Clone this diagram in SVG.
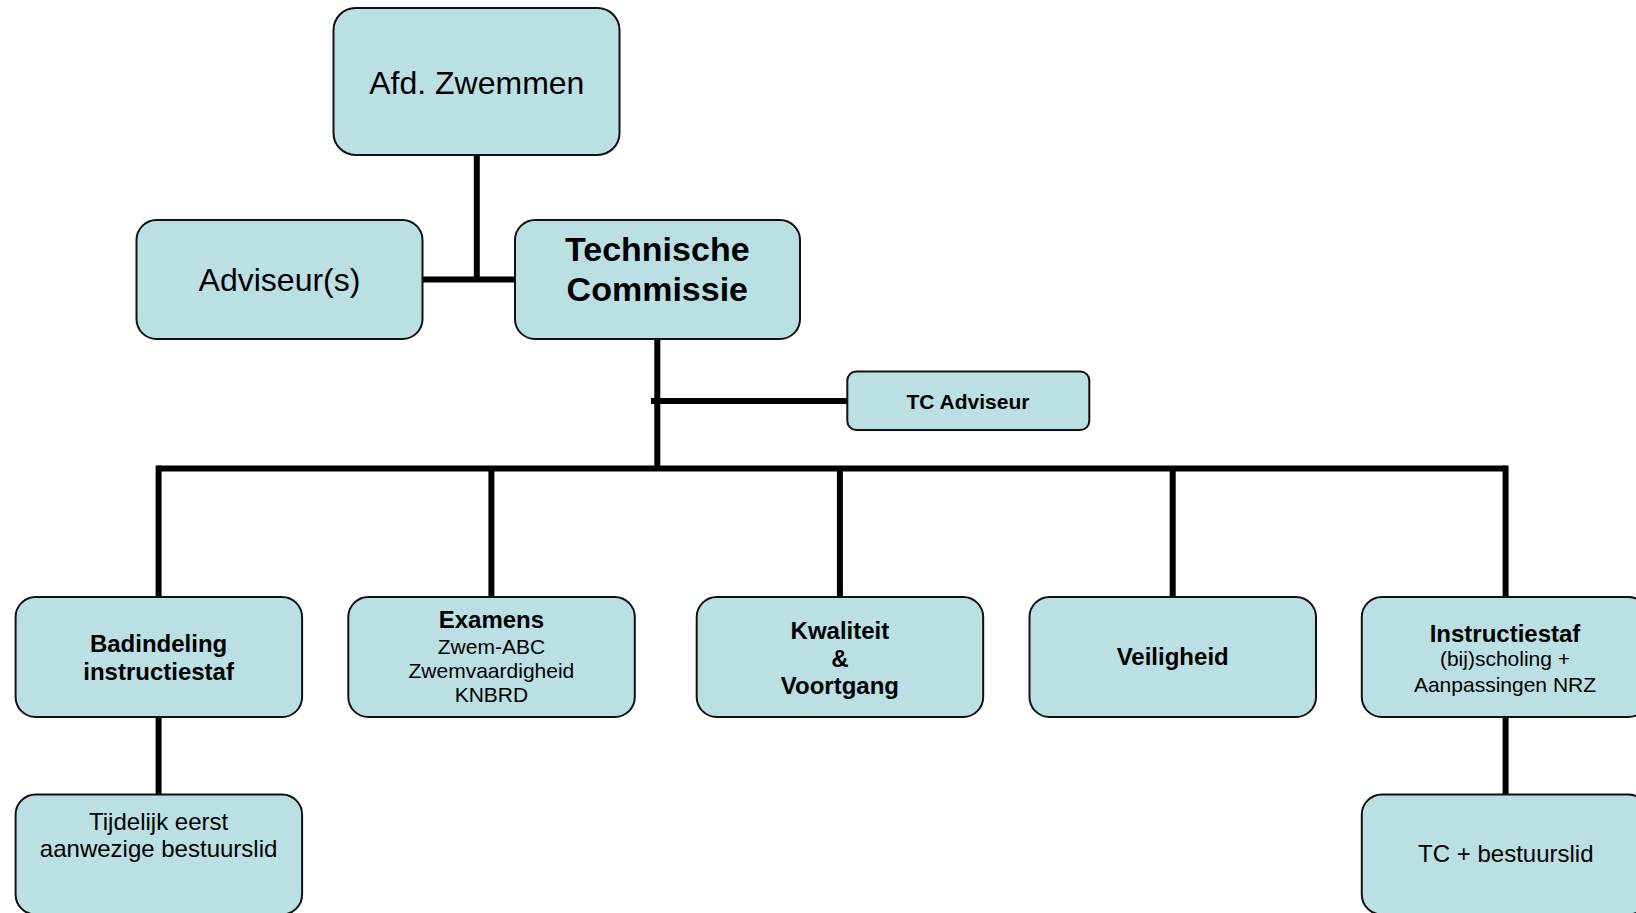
<svg xmlns="http://www.w3.org/2000/svg" width="1636" height="913" viewBox="0 0 1636 913">
<style>
.box{fill:#BAE0E3;stroke:#111;stroke-width:2}
.ln{stroke:#000;stroke-width:6;fill:none}
text{font-family:"Liberation Sans",Arial,sans-serif;fill:#000;text-anchor:middle}
.b{font-weight:bold}
</style>
<rect width="1636" height="913" fill="#fff"/>
<g id="connectors">
<line class="ln" x1="476.8" y1="155" x2="476.8" y2="279.5"/>
<line class="ln" x1="422" y1="279.5" x2="515" y2="279.5"/>
<line class="ln" x1="657.3" y1="339" x2="657.3" y2="468.5"/>
<line class="ln" x1="651" y1="401" x2="847" y2="401"/>
<line class="ln" x1="158.6" y1="468.5" x2="1505.6" y2="468.5"/>
<line class="ln" x1="158.6" y1="465.5" x2="158.6" y2="597"/>
<line class="ln" x1="491.4" y1="468.5" x2="491.4" y2="597"/>
<line class="ln" x1="839.9" y1="468.5" x2="839.9" y2="597"/>
<line class="ln" x1="1172.7" y1="468.5" x2="1172.7" y2="597"/>
<line class="ln" x1="1505.6" y1="465.5" x2="1505.6" y2="597"/>
<line class="ln" x1="158.6" y1="717" x2="158.6" y2="795"/>
<line class="ln" x1="1505.6" y1="717" x2="1505.6" y2="795"/>
</g>
<g id="afd-zwemmen">
<rect class="box" x="333.5" y="8" width="286" height="147" rx="22"/>
<text x="476.8" y="93.5" font-size="32">Afd. Zwemmen</text>
</g>
<g id="adviseurs">
<rect class="box" x="136.5" y="220" width="286" height="119" rx="20"/>
<text x="279.5" y="290.5" font-size="32">Adviseur(s)</text>
</g>
<g id="technische-commissie">
<rect class="box" x="515" y="220" width="285" height="119" rx="20"/>
<text class="b" x="657.3" y="260.7" font-size="34">Technische</text>
<text class="b" x="657.3" y="300.7" font-size="34">Commissie</text>
</g>
<g id="tc-adviseur">
<rect class="box" x="847.3" y="371.5" width="242" height="58.5" rx="9"/>
<text class="b" x="968" y="409.3" font-size="21">TC Adviseur</text>
</g>
<g id="badindeling">
<rect class="box" x="15.6" y="597" width="286.5" height="120" rx="20"/>
<text class="b" x="158.6" y="652.3" font-size="24">Badindeling</text>
<text class="b" x="158.6" y="680" font-size="24">instructiestaf</text>
</g>
<g id="examens">
<rect class="box" x="348.3" y="597" width="286.5" height="120" rx="20"/>
<text class="b" x="491.4" y="628.3" font-size="24">Examens</text>
<text x="491.4" y="654" font-size="21">Zwem-ABC</text>
<text x="491.4" y="678.3" font-size="21">Zwemvaardigheid</text>
<text x="491.4" y="702.3" font-size="21">KNBRD</text>
</g>
<g id="kwaliteit">
<rect class="box" x="696.7" y="597" width="286.5" height="120" rx="20"/>
<text class="b" x="839.9" y="639.3" font-size="24">Kwaliteit</text>
<text class="b" x="839.9" y="666.7" font-size="24">&amp;</text>
<text class="b" x="839.9" y="693.7" font-size="24">Voortgang</text>
</g>
<g id="veiligheid">
<rect class="box" x="1029.5" y="597" width="286.5" height="120" rx="20"/>
<text class="b" x="1172.7" y="665" font-size="24">Veiligheid</text>
</g>
<g id="instructiestaf">
<rect class="box" x="1361.8" y="597" width="286.5" height="120" rx="20"/>
<text class="b" x="1505" y="641.7" font-size="24">Instructiestaf</text>
<text x="1505" y="666.3" font-size="21">(bij)scholing +</text>
<text x="1505" y="691.7" font-size="21">Aanpassingen NRZ</text>
</g>
<g id="tijdelijk">
<rect class="box" x="15.6" y="794.5" width="286.5" height="120" rx="20"/>
<text x="158.6" y="830" font-size="24">Tijdelijk eerst</text>
<text x="158.6" y="857.3" font-size="24">aanwezige bestuurslid</text>
</g>
<g id="tc-bestuurslid">
<rect class="box" x="1361.8" y="794.5" width="286.5" height="120" rx="20"/>
<text x="1505.8" y="861.7" font-size="24">TC + bestuurslid</text>
</g>
</svg>
